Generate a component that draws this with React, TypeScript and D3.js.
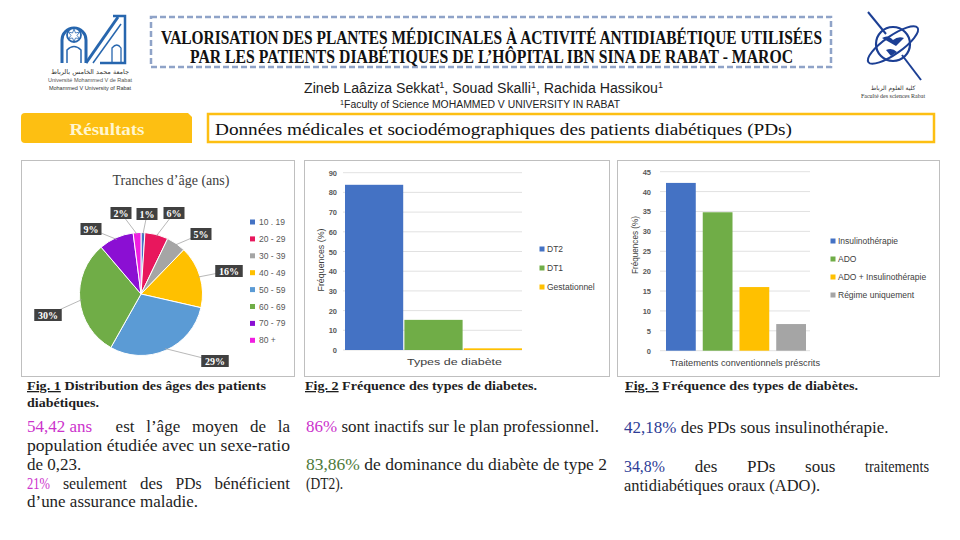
import React, { useLayoutEffect, useRef } from "react";
import * as d3 from "d3";

// ---------- DATA ----------
const ageLabels = ["10 . 19", "20 - 29", "30 - 39", "40 - 49", "50 - 59", "60 - 69", "70 - 79", "80 +"];
const agePct = [1, 6, 5, 16, 29, 30, 9, 2];
const ageColors = ["#4472C4", "#E8175D", "#A5A5A5", "#FFC000", "#5B9BD5", "#70AD47", "#8B0FD3", "#F01EE0"];

const diabTypes = ["DT2", "DT1", "Gestationnel"];
const diabValues = [83.86, 15.3, 0.84];
const diabColors = ["#4472C4", "#70AD47", "#FFC000"];
const diabTicks = [0, 10, 20, 30, 40, 50, 60, 70, 80, 90];

const treatLabels = ["Insulinothérapie", "ADO", "ADO + Insulinothérapie", "Régime uniquement"];
const treatValues = [42.18, 34.8, 16, 6.7];
const treatColors = ["#4472C4", "#70AD47", "#FFC000", "#A5A5A5"];
const treatTicks = [0, 5, 10, 15, 20, 25, 30, 35, 40, 45];

// ---------- LAYOUT ----------
const SERIF = "'Liberation Serif', 'DejaVu Serif', serif";
const SANS = "'Liberation Sans', 'Open Sans', sans-serif";
const MAG = "#CC33CC", GRN = "#4E7A3A", BLU = "#2E3C96";
const YEL = "#FDBF12";
const INK = "#1e1e1e";
const BODY_SIZE = 17;

const PIE = { cx: 141, cy: 294, r: 61.5 };
// label anchor offsets from pie centre (Excel "best fit" placement)
const pieLabelOffset: [number, number][] = [
  [6, -80], [33, -81], [60, -60], [88, -23], [74, 67], [-93, 21], [-50, -65], [-20, -81],
];

type Part = { t: string; c?: string; u?: boolean };
type Seg = { p: Part[]; x0: number; x1: number; exact?: boolean };
type Line = { y: number; segs: Seg[] };
type Word = { t: string; c?: string; max?: number; gap?: number };
type JLine = { y: number; x0: number; x1: number; words: Word[] };

const captionLines: Line[] = [
  { y: 390, segs: [{ p: [{ t: "Fig. 1", u: true }, { t: " Distribution des âges des patients" }], x0: 27, x1: 266, exact: true }] },
  { y: 407, segs: [{ p: [{ t: "diabétiques." }], x0: 27, x1: 99, exact: true }] },
  { y: 390, segs: [{ p: [{ t: "Fig. 2", u: true }, { t: " Fréquence des types de diabetes." }], x0: 305, x1: 537, exact: true }] },
  { y: 390, segs: [{ p: [{ t: "Fig. 3", u: true }, { t: " Fréquence des types de diabètes." }], x0: 625, x1: 858, exact: true }] },
];

// fully justified lines (word positions computed from measured widths)
const justLines: JLine[] = [
  { y: 432, x0: 27, x1: 290, words: [
    { t: "54,42 ans", c: MAG }, { t: "est", gap: 2 }, { t: "l’âge" }, { t: "moyen" }, { t: "de" }, { t: "la" }] },
  { y: 488.5, x0: 27, x1: 290, words: [
    { t: "21%", c: MAG, max: 23 }, { t: "seulement", max: 64 }, { t: "des" }, { t: "PDs", max: 26 }, { t: "bénéficient" }] },
  { y: 472, x0: 624, x1: 929, words: [
    { t: "34,8%", c: BLU, max: 41 }, { t: "des" }, { t: "PDs" }, { t: "sous" }, { t: "traitements", max: 64 }] },
];

const bodyLines: Line[] = [
  { y: 451, segs: [{ p: [{ t: "population étudiée avec un sexe-ratio" }], x0: 27, x1: 290, exact: true }] },
  { y: 469.5, segs: [{ p: [{ t: "de 0,23." }], x0: 27, x1: 83 }] },
  { y: 507, segs: [{ p: [{ t: "d’une assurance maladie." }], x0: 27, x1: 198 }] },
  { y: 432, segs: [{ p: [{ t: "86%", c: MAG }, { t: " sont inactifs sur le plan professionnel." }], x0: 306, x1: 599, exact: true }] },
  { y: 469.5, segs: [{ p: [{ t: "83,86%", c: GRN }, { t: " de dominance du diabète de type 2" }], x0: 306, x1: 607, exact: true }] },
  { y: 488.5, segs: [{ p: [{ t: "(DT2)." }], x0: 306, x1: 343 }] },
  { y: 433, segs: [{ p: [{ t: "42,18%", c: BLU }, { t: " des PDs sous insulinothérapie." }], x0: 624, x1: 889 }] },
  { y: 491, segs: [{ p: [{ t: "antidiabétiques oraux (ADO)." }], x0: 624, x1: 820 }] },
];

// Text compressed to its box if too wide (or fitted exactly when `exact`)
function FitText({ s, y, size, weight }: { s: Seg; y: number; size: number; weight?: string }) {
  const ref = useRef<SVGTextElement>(null);
  useLayoutEffect(() => {
    const el = ref.current;
    if (!el) return;
    const target = s.x1 - s.x0;
    const nat = el.getComputedTextLength();
    if (s.exact || nat > target) {
      el.setAttribute("textLength", String(target));
      el.setAttribute("lengthAdjust", "spacingAndGlyphs");
    }
  }, []);
  return (
    <text ref={ref} x={s.x0} y={y} fontFamily={SERIF} fontSize={size} fontWeight={weight || "normal"} fill={INK}>
      {s.p.map((pt, k) => (
        <tspan key={k} fill={pt.c || INK} textDecoration={pt.u ? "underline" : undefined}>
          {pt.t}
        </tspan>
      ))}
    </text>
  );
}

// Justified line: words spread between x0 and x1
function JustText({ line, size }: { line: JLine; size: number }) {
  const refs = useRef<(SVGTextElement | null)[]>([]);
  useLayoutEffect(() => {
    const els = refs.current;
    const widths = line.words.map((w, i) => {
      const el = els[i];
      if (!el) return 0;
      let n = el.getComputedTextLength();
      if (w.max && n > w.max) {
        el.setAttribute("textLength", String(w.max));
        el.setAttribute("lengthAdjust", "spacingAndGlyphs");
        n = w.max;
      }
      return n;
    });
    const total = widths.reduce((a, b) => a + b, 0);
    const weights = line.words.slice(1).map((w) => w.gap ?? 1);
    const unit = (line.x1 - line.x0 - total) / weights.reduce((a, b) => a + b, 0);
    let x = line.x0;
    els.forEach((el, i) => {
      if (!el) return;
      if (i > 0) x += weights[i - 1] * unit;
      el.setAttribute("x", String(x));
      x += widths[i];
    });
  }, []);
  return (
    <g>
      {line.words.map((w, i) => (
        <text
          key={i}
          ref={(el) => {
            refs.current[i] = el;
          }}
          x={line.x0}
          y={line.y}
          fontFamily={SERIF}
          fontSize={size}
          fill={w.c || INK}
        >
          {w.t}
        </text>
      ))}
    </g>
  );
}

function PieChart() {
  const pieGen = d3.pie<number>().sort(null).value((d) => d);
  const arcs = pieGen(agePct);
  const arcGen = d3.arc<d3.PieArcDatum<number>>().innerRadius(0).outerRadius(PIE.r);
  return (
    <g>
      <text x={171} y={185} textAnchor="middle" fontFamily={SERIF} fontSize={14} fill="#404040">
        Tranches d’âge (ans)
      </text>
      <g transform={`translate(${PIE.cx},${PIE.cy})`}>
        {arcs.map((a, i) => (
          <path key={i} d={arcGen(a) || ""} fill={ageColors[i]} stroke="#fff" strokeWidth={1} />
        ))}
        {arcs.map((a, i) => {
          const mid = (a.startAngle + a.endAngle) / 2;
          const px = Math.sin(mid) * PIE.r * 0.97;
          const py = -Math.cos(mid) * PIE.r * 0.97;
          const [lx, ly] = pieLabelOffset[i];
          return <line key={i} x1={px} y1={py} x2={lx} y2={ly} stroke="#A6A6A6" strokeWidth={0.8} />;
        })}
        {arcs.map((a, i) => {
          const [lx, ly] = pieLabelOffset[i];
          const label = `${agePct[i]}%`;
          const w = label.length * 6.5 + 8;
          return (
            <g key={i}>
              <rect x={lx - w / 2} y={ly - 6} width={w} height={12} fill="#404040" />
              <text x={lx} y={ly + 3.5} textAnchor="middle" fontFamily={SERIF} fontWeight="bold" fontSize={10} fill="#fff">
                {label}
              </text>
            </g>
          );
        })}
      </g>
      {ageLabels.map((l, i) => (
        <g key={l}>
          <rect x={250} y={219.5 + i * 16.9} width={5} height={5} fill={ageColors[i]} />
          <text x={259} y={225 + i * 16.9} fontFamily={SANS} fontSize={8.5} fill="#595959">
            {l}
          </text>
        </g>
      ))}
    </g>
  );
}

function DiabChart() {
  const y = d3.scaleLinear().domain([0, 90]).range([350, 172.7]);
  const x = d3.scaleBand<string>().domain(diabTypes).range([345, 522]).paddingInner(0.02).paddingOuter(0);
  return (
    <g>
      {diabTicks.map((t) => (
        <g key={t}>
          <line x1={343} x2={522} y1={y(t)} y2={y(t)} stroke="#D9D9D9" strokeWidth={0.8} />
          <text x={337} y={y(t) + 3} textAnchor="end" fontFamily={SANS} fontSize={7.5} fontWeight="bold" fill="#595959">
            {t}
          </text>
        </g>
      ))}
      {diabTypes.map((d, i) => (
        <rect key={d} x={x(d)} y={y(diabValues[i])} width={x.bandwidth()} height={y(0) - y(diabValues[i])} fill={diabColors[i]} />
      ))}
      <text transform="translate(324,260) rotate(-90)" textAnchor="middle" fontFamily={SANS} fontSize={9} fill="#404040" textLength={63} lengthAdjust="spacingAndGlyphs">
        Fréquences (%)
      </text>
      <text x={407} y={365} fontFamily={SANS} fontSize={9.5} fill="#404040" textLength={95} lengthAdjust="spacingAndGlyphs">
        Types de diabète
      </text>
      {diabTypes.map((d, i) => (
        <g key={d}>
          <rect x={539.5} y={246.5 + i * 19} width={5} height={5} fill={diabColors[i]} />
          <text x={547} y={252 + i * 19} fontFamily={SANS} fontSize={8.5} fill="#404040">
            {d}
          </text>
        </g>
      ))}
    </g>
  );
}

function TreatChart() {
  const y = d3.scaleLinear().domain([0, 45]).range([350.7, 171.7]);
  const x = d3.scaleBand<string>().domain(treatLabels).range([666, 806]).paddingInner(0.19).paddingOuter(0);
  return (
    <g>
      {treatTicks.map((t) => (
        <g key={t}>
          <line x1={660} x2={810} y1={y(t)} y2={y(t)} stroke="#D9D9D9" strokeWidth={0.8} />
          <text x={651} y={y(t) + 3} textAnchor="end" fontFamily={SANS} fontSize={7.5} fontWeight="bold" fill="#595959">
            {t}
          </text>
        </g>
      ))}
      {treatLabels.map((d, i) => (
        <rect key={d} x={x(d)} y={y(treatValues[i])} width={x.bandwidth()} height={y(0) - y(treatValues[i])} fill={treatColors[i]} />
      ))}
      <text transform="translate(638,245) rotate(-90)" textAnchor="middle" fontFamily={SANS} fontSize={9} fill="#404040" textLength={58} lengthAdjust="spacingAndGlyphs">
        Fréquences (%)
      </text>
      <text x={670} y={366} fontFamily={SANS} fontSize={9} fill="#404040" textLength={150} lengthAdjust="spacingAndGlyphs">
        Traitements conventionnels préscrits
      </text>
      {treatLabels.map((d, i) => (
        <g key={d}>
          <rect x={830.5} y={238.5 + i * 18} width={5} height={5} fill={treatColors[i]} />
          <text x={838} y={244 + i * 18} fontFamily={SANS} fontSize={8.5} fill="#404040">
            {d}
          </text>
        </g>
      ))}
    </g>
  );
}

function LeftLogo() {
  const B = "#2766AE";
  return (
    <g>
      <path d="M62,63 V40 A12,12 0 0 1 86,40 V63" fill="none" stroke={B} strokeWidth={3} />
      <circle cx={74} cy={35} r={7} fill="#fff" stroke={B} strokeWidth={1.8} />
      <path d="M74,29 L75.5,33 L79.5,32 L77,35.5 L79.5,38.5 L75.5,38 L74,41.5 L72.5,38 L68.5,38.5 L71,35.5 L68.5,32 L72.5,33 Z" fill="none" stroke={B} strokeWidth={0.8} />
      <path d="M67,63 V50 Q74,43 81,50 V63" fill="none" stroke={B} strokeWidth={1.5} />
      <path d="M86,63 L118,17" stroke={B} strokeWidth={3} />
      <path d="M93,63 L121,24" stroke={B} strokeWidth={1.5} />
      <path d="M113,16 H125 V63 H100" fill="none" stroke={B} strokeWidth={2.5} />
      <path d="M112,63 V48 Q117,42 121,48 V63" fill="none" stroke={B} strokeWidth={1.3} />
      <text x={90} y={74} textAnchor="middle" fontFamily="'DejaVu Sans', sans-serif" fontSize={6.5} fill="#333">
        جامعة محمد الخامس بالرباط
      </text>
      <text x={90} y={82} textAnchor="middle" fontFamily={SANS} fontSize={5.5} fill="#555">
        Université Mohammed V de Rabat
      </text>
      <text x={90} y={90} textAnchor="middle" fontFamily={SANS} fontSize={5.5} fill="#333">
        Mohammed V University of Rabat
      </text>
    </g>
  );
}

function RightLogo() {
  const B = "#1C3F94";
  return (
    <g>
      <circle cx={893} cy={44} r={17} fill="none" stroke={B} strokeWidth={2.2} />
      <ellipse cx={893} cy={45} rx={30} ry={9} transform="rotate(-35 893 45)" fill="none" stroke={B} strokeWidth={2} />
      <path d="M868,12 L886,34" stroke={B} strokeWidth={2} />
      <path d="M902,55 L921,80" stroke={B} strokeWidth={2} />
      <path d="M882,38 Q888,34 893,40 Q898,36 904,38 L896,46 Z" fill={B} />
      <path d="M886,50 Q892,47 897,52 L891,56 Z" fill={B} />
      <text x={893} y={90} textAnchor="middle" fontFamily="'DejaVu Sans', sans-serif" fontSize={6} fill="#333">
        كلية العلوم الرباط
      </text>
      <text x={893} y={98} textAnchor="middle" fontFamily={SERIF} fontSize={6} fill="#333">
        Faculté des sciences Rabat
      </text>
    </g>
  );
}

export default function App() {
  return (
    <svg width={960} height={540} viewBox="0 0 960 540" style={{ position: "absolute", left: 0, top: 0, background: "#fff" }}>
      <rect width={960} height={540} fill="#fff" />
      <LeftLogo />
      <RightLogo />
      {/* title */}
      <rect x={151} y={17} width={680} height={50} fill="#fff" stroke="#8FA3C8" strokeWidth={2.5} strokeDasharray="6 3" />
      <text x={161} y={44} fontFamily={SERIF} fontWeight="bold" fontSize={18} fill="#111" textLength={661} lengthAdjust="spacingAndGlyphs">
        VALORISATION DES PLANTES MÉDICINALES À ACTIVITÉ ANTIDIABÉTIQUE UTILISÉES
      </text>
      <text x={190} y={63} fontFamily={SERIF} fontWeight="bold" fontSize={18} fill="#111" textLength={603} lengthAdjust="spacingAndGlyphs">
        PAR LES PATIENTS DIABÉTIQUES DE L’HÔPITAL IBN SINA DE RABAT - MAROC
      </text>
      <text x={304} y={93} fontFamily={SANS} fontSize={14} fill="#222" textLength={359} lengthAdjust="spacingAndGlyphs">
        Zineb Laâziza Sekkat<tspan dy={-5} fontSize={9}>1</tspan><tspan dy={5}>, Souad Skalli</tspan><tspan dy={-5} fontSize={9}>1</tspan><tspan dy={5}>, Rachida Hassikou</tspan><tspan dy={-5} fontSize={9}>1</tspan>
      </text>
      <text x={340} y={108} fontFamily={SANS} fontSize={10} fill="#222" textLength={280} lengthAdjust="spacingAndGlyphs">
        <tspan dy={-3} fontSize={7}>1</tspan><tspan dy={3}>Faculty of Science MOHAMMED V UNIVERSITY IN RABAT</tspan>
      </text>

      {/* section header */}
      <path d="M25,113 L188,113 L192,117 L192,143 L25,143 Q21,143 21,139 L21,117 Q21,113 25,113 Z" fill={YEL} />
      <text x={107} y={135} textAnchor="middle" fontFamily={SERIF} fontWeight="bold" fontSize={17} fill="#FFF6D0" textLength={75} lengthAdjust="spacingAndGlyphs">
        Résultats
      </text>
      <rect x={208} y={114} width={726} height={28} fill="#fff" stroke={YEL} strokeWidth={2.5} />
      <text x={215} y={135} fontFamily={SERIF} fontSize={17} fill="#111" textLength={577} lengthAdjust="spacingAndGlyphs">
        Données médicales et sociodémographiques des patients diabétiques (PDs)
      </text>

      {/* panels */}
      <rect x={21.5} y={160.5} width={273} height={216} fill="#fff" stroke="#BFBFBF" strokeWidth={1} />
      <rect x={304.5} y={160.5} width={305} height={216} fill="#fff" stroke="#BFBFBF" strokeWidth={1} />
      <rect x={617.5} y={160.5} width={322} height={216} fill="#fff" stroke="#BFBFBF" strokeWidth={1} />

      <PieChart />
      <DiabChart />
      <TreatChart />

      {captionLines.map((l, i) =>
        l.segs.map((s, j) => <FitText key={`c${i}-${j}`} s={s} y={l.y} size={13} weight="bold" />)
      )}
      {justLines.map((l, i) => (
        <JustText key={`j${i}`} line={l} size={BODY_SIZE} />
      ))}
      {bodyLines.map((l, i) =>
        l.segs.map((s, j) => <FitText key={`b${i}-${j}`} s={s} y={l.y} size={BODY_SIZE} />)
      )}
    </svg>
  );
}
